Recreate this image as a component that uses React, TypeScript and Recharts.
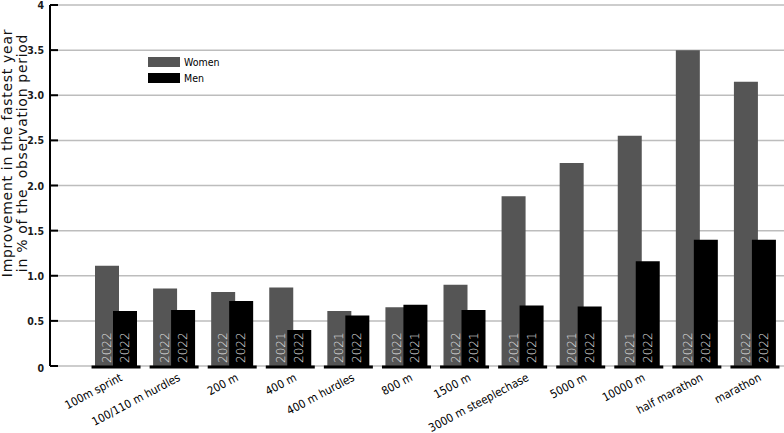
import { Bar, BarChart, CartesianGrid, LabelList, Legend, XAxis, YAxis } from 'recharts';

const events = [
  '100m sprint',
  '100/110 m hurdles',
  '200 m',
  '400 m',
  '400 m hurdles',
  '800 m',
  '1500 m',
  '3000 m steeplechase',
  '5000 m',
  '10000 m',
  'half marathon',
  'marathon',
];

const women = [1.11, 0.86, 0.82, 0.87, 0.61, 0.65, 0.9, 1.88, 2.25, 2.55, 3.5, 3.15];
const men = [0.61, 0.62, 0.72, 0.4, 0.56, 0.68, 0.62, 0.67, 0.66, 1.16, 1.4, 1.4];

const womenYear = ['2022', '2022', '2022', '2021', '2021', '2022', '2022', '2021', '2021', '2021', '2022', '2022'];
const menYear = ['2022', '2022', '2022', '2022', '2022', '2021', '2021', '2021', '2022', '2022', '2022', '2022'];

const yTicks = [0, 0.5, 1, 1.5, 2, 2.5, 3, 3.5, 4];

const data = events.map((event, i) => ({
  event,
  women: women[i],
  men: men[i],
  womenYear: womenYear[i],
  menYear: menYear[i],
}));

const WOMEN_COLOR = '#555555';
const MEN_COLOR = '#000000';
const FONT = '"DejaVu Sans Condensed", "DejaVu Sans", sans-serif';

const fmtTick = (v: number) => (v === 0 || v === 4 ? String(v) : v.toFixed(1));

function YTick(props: any) {
  const { x, y, payload } = props;
  const axisX = x + 5;
  return (
    <g>
      <line x1={axisX} x2={axisX + 8} y1={y} y2={y} stroke="#000" strokeWidth={2} />
      <text
        x={x - 1}
        y={y}
        dy={payload.value === 0 ? 6 : 4}
        textAnchor="end"
        fontSize={10.5}
        fontWeight="bold"
        fontFamily={FONT}
        fill="#1a1a1a"
      >
        {fmtTick(payload.value)}
      </text>
    </g>
  );
}

function XTick(props: any) {
  const { x, y, payload } = props;
  return (
    <g>
      <line x1={x - 24.5} x2={x + 24.5} y1={y + 1} y2={y + 1} stroke="#000" strokeWidth={3} />
      <text
        transform={`translate(${x + 7},${y + 14}) rotate(-28)`}
        textAnchor="end"
        fontSize={11.5}
        fontFamily={FONT}
        fill="#000"
      >
        {payload.value}
      </text>
    </g>
  );
}

function YearLabel(props: any) {
  const { x, y, width, height, value } = props;
  const bx = x + width / 2 + 4;
  const by = y + height - 3;
  return (
    <text
      transform={`translate(${bx},${by}) rotate(-90)`}
      textAnchor="start"
      fontSize={12}
      fontWeight={200}
      fontFamily='"DejaVu Sans", sans-serif'
      fill="#e4e4e4"
    >
      {value}
    </text>
  );
}

function AxisTitle(props: any) {
  const { viewBox } = props;
  const cy = viewBox.y + viewBox.height * 0.41;
  const x1 = viewBox.x + 12;
  const x2 = viewBox.x + 27;
  const style = { whiteSpace: 'pre' as const, letterSpacing: 0.7 };
  return (
    <g fontSize={14} fontFamily='"DejaVu Sans", sans-serif' fill="#111">
      <text transform={`translate(${x1},${cy}) rotate(-90)`} textAnchor="middle" style={style}>
        Improvement in the fastest year
      </text>
      <text transform={`translate(${x2},${cy}) rotate(-90)`} textAnchor="middle" style={style}>
        in % of the  observation period
      </text>
    </g>
  );
}

function LegendBox() {
  const rows = [
    { name: 'Women', color: WOMEN_COLOR },
    { name: 'Men', color: MEN_COLOR },
  ];
  return (
    <div style={{ fontFamily: FONT, fontSize: 10.5, color: '#000' }}>
      {rows.map((r) => (
        <div key={r.name} style={{ display: 'flex', alignItems: 'center', height: 16 }}>
          <span style={{ display: 'inline-block', width: 32, height: 10, background: r.color, marginRight: 4 }} />
          <span>{r.name}</span>
        </div>
      ))}
    </div>
  );
}

export default function App() {
  return (
    <div style={{ position: 'absolute', left: 0, top: 0, background: '#fff' }}>
      <BarChart
        width={784}
        height={433}
        data={data}
        margin={{ top: 5, right: 0, left: 0, bottom: 0 }}
        barGap={-6}
        barSize={24}
      >
        <CartesianGrid vertical={false} stroke="#bdbdbd" strokeWidth={1.5} />
        <XAxis
          dataKey="event"
          interval={0}
          height={67}
          axisLine={false}
          tickLine={false}
          tickSize={0}
          tickMargin={0}
          padding={{ left: 37, right: 0 }}
          tick={<XTick />}
        />
        <YAxis
          width={50}
          domain={[0, 4]}
          ticks={yTicks}
          interval={0}
          axisLine={{ stroke: '#000', strokeWidth: 2 }}
          tickLine={false}
          tickSize={0}
          tickMargin={5}
          tick={<YTick />}
          label={{ content: <AxisTitle /> }}
        />
        <Legend
          layout="horizontal"
          verticalAlign="middle"
          align="center"
          wrapperStyle={{ left: 148, top: 54, width: 'auto' }}
          content={<LegendBox />}
        />
        <Bar dataKey="women" name="Women" fill={WOMEN_COLOR} isAnimationActive={false}>
          <LabelList dataKey="womenYear" content={<YearLabel />} />
        </Bar>
        <Bar dataKey="men" name="Men" fill={MEN_COLOR} isAnimationActive={false}>
          <LabelList dataKey="menYear" content={<YearLabel />} />
        </Bar>
      </BarChart>
    </div>
  );
}
